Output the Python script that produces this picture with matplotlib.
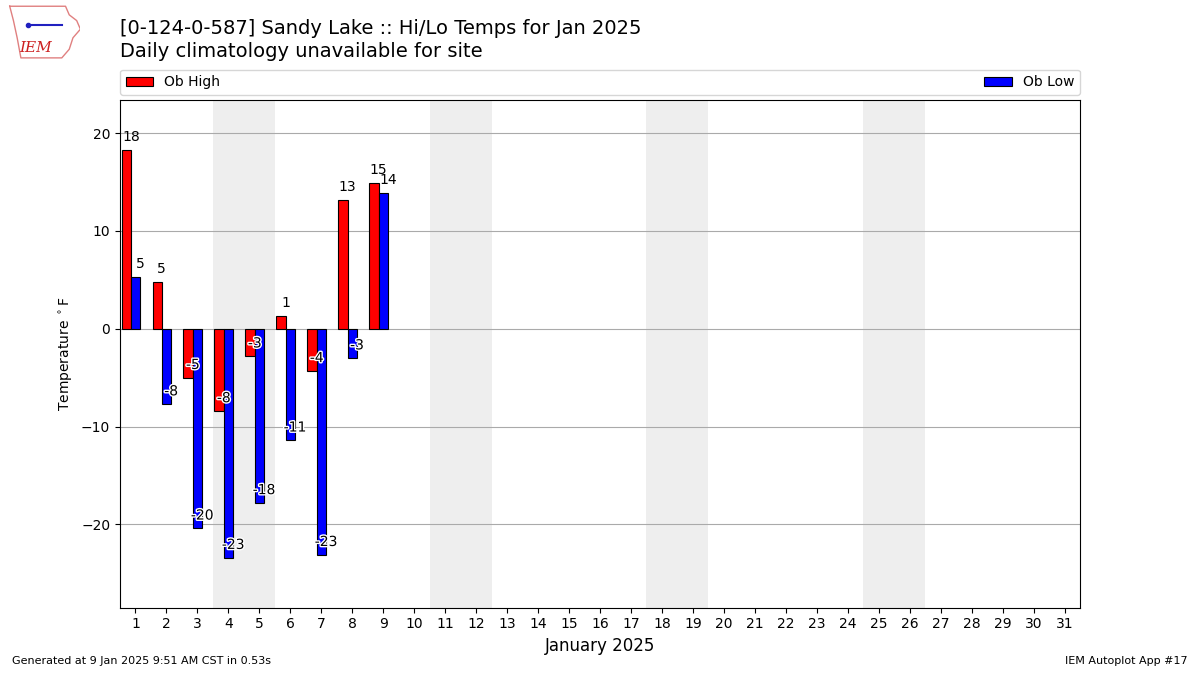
import numpy as np
import matplotlib
matplotlib.use("Agg")
import matplotlib.pyplot as plt
import matplotlib.patheffects as PathEffects

# 观测数据 (Jan 2025, Sandy Lake)
days = np.arange(1, 10)
ob_high = [18.3, 4.8, -5.0, -8.4, -2.8, 1.3, -4.3, 13.2, 14.9]
ob_low = [5.3, -7.7, -20.4, -23.4, -17.8, -11.4, -23.1, -3.0, 13.9]
weekends = [(4, 5), (11, 12), (18, 19), (25, 26)]
month_days = np.arange(1, 32)

fig = plt.figure(figsize=(12, 6.75), dpi=100)
ax = fig.add_axes([0.1, 0.1, 0.8, 0.752])

for start, end in weekends:
    ax.axvspan(start - 0.5, end + 0.5, color="#eeeeee", zorder=0, lw=0)

hb = ax.bar(days - 0.3, ob_high, width=0.3, color="r", edgecolor="k",
            lw=0.8, label="Ob High", zorder=3)
lb = ax.bar(days, ob_low, width=0.3, color="b", edgecolor="k",
            lw=0.8, label="Ob Low", zorder=3)

# 数值标注
for x0, vals in ((days - 0.3, ob_high), (days, ob_low)):
    for x, v in zip(x0, vals):
        txt = ax.text(x + 0.15, v + 1.3, f"{round(v):.0f}", ha="center",
                      va="center", fontsize=10, zorder=5)
        if v < 0:
            txt.set_path_effects([PathEffects.withStroke(linewidth=2,
                                                         foreground="w")])

ax.set_xlim(0.5, 31.5)
ax.set_ylim(-28.5, 23.4)
ax.set_xticks(month_days)
ax.set_xticklabels([str(d) for d in month_days])
ax.set_yticks([-20, -10, 0, 10, 20])
ax.grid(axis="y", color="#aaaaaa", lw=0.8, zorder=1)
ax.set_axisbelow(True)
ax.tick_params(axis="both", labelsize=10)
ax.set_xlabel("January 2025", fontsize=12)
ax.set_ylabel(r"Temperature $^\circ$F", fontsize=10)

ax.legend(handles=[hb, lb], loc="lower left", ncol=2, mode="expand",
          bbox_to_anchor=(0, 1.01, 1, 0.05), borderaxespad=0,
          fontsize=10, handlelength=2, frameon=True)

fig.text(0.1, 0.958, "[0-124-0-587] Sandy Lake :: Hi/Lo Temps for Jan 2025",
         fontsize=14, va="center")
fig.text(0.1, 0.924, "Daily climatology unavailable for site",
         fontsize=14, va="center")
fig.text(0.01, 0.013, "Generated at 9 Jan 2025 9:51 AM CST in 0.53s",
         fontsize=8, va="bottom")
fig.text(0.99, 0.013, "IEM Autoplot App #17", fontsize=8, ha="right",
         va="bottom")

# 简易 IEM 标志
lax = fig.add_axes([0.005, 0.91, 0.062, 0.085])
lax.set_xlim(0, 1)
lax.set_ylim(0, 1)
lax.axis("off")
outline_x = [0.05, 0.8, 0.85, 0.95, 1.0, 0.9, 0.85, 0.75, 0.2, 0.15, 0.1, 0.05]
outline_y = [0.95, 0.95, 0.8, 0.7, 0.55, 0.4, 0.2, 0.05, 0.05, 0.4, 0.7, 0.95]
lax.plot(outline_x, outline_y, color="#e08080", lw=1)
lax.plot([0.3, 0.75], [0.62, 0.62], color="#2020c0", lw=1.5)
lax.plot([0.3], [0.62], "o", color="#2020c0", ms=3)
lax.text(0.18, 0.22, "IEM", color="#cc2020", fontsize=11, style="italic",
         family="serif", va="center")

fig.savefig("out.png", dpi=100)
